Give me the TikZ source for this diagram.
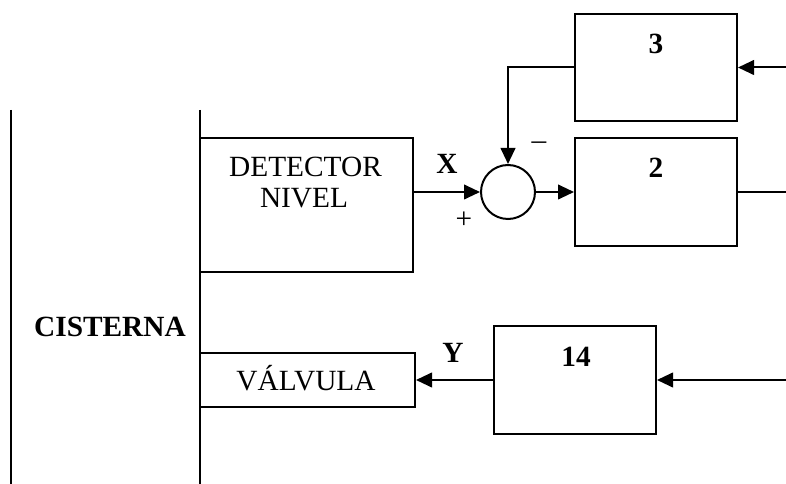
\documentclass[tikz,border=0pt]{standalone}
\usepackage{fontspec}
\setmainfont{Liberation Serif}
\usetikzlibrary{arrows.meta}
\tikzset{
  blk/.style={draw, line width=1.5pt, rectangle, inner sep=0pt},
  sumc/.style={draw, line width=1.5pt, circle, inner sep=0pt, minimum size=40.5pt},
  ln/.style={line width=1.5pt},
  arr/.style={line width=1.5pt, -{Triangle[length=12pt,width=11pt]}},
  txt/.style={font=\fontsize{22}{26}\selectfont, anchor=base, inner sep=0pt},
  btxt/.style={font=\fontsize{22}{26}\selectfont\bfseries, anchor=base, inner sep=0pt},
  sgn/.style={font=\fontsize{22}{26}\selectfont, inner sep=0pt}
}
\begin{document}
\begin{tikzpicture}[x=0.75pt,y=-0.75pt]
\useasboundingbox (0,0) rectangle (786,484);
% vertical lines
\coordinate (l1t) at (11,110);
\coordinate (l1b) at (11,484);
\coordinate (l2t) at (200,110);
\coordinate (l2b) at (200,484);
\draw[ln] (l1t) -- (l1b);
\draw[ln] (l2t) -- (l2b);
% boxes
\node[blk, minimum width=159.75pt, minimum height=100.5pt] (det) at (306.5,205) {};
\node[blk, minimum width=121.5pt, minimum height=80.25pt] (b3) at (656,67.5) {};
\node[blk, minimum width=121.5pt, minimum height=81pt] (b2) at (656,192) {};
\node[blk, minimum width=121.5pt, minimum height=81pt] (b14) at (575,380) {};
\node[blk, minimum width=161.25pt, minimum height=40.5pt] (val) at (307.5,380) {};
\node[sumc] (sum) at (508,192) {};
% texts
\node[txt] (t1) at (305.5,177) {DETECTOR};
\node[txt] (t2) at (304,208) {NIVEL};
\node[txt] (t3) at (306,391) {VÁLVULA};
\node[btxt] (t4) at (110,337) {CISTERNA};
\node[btxt] (n3) at (656,54) {3};
\node[btxt] (n2) at (656,178) {2};
\node[btxt] (n14) at (576,367) {14};
\node[btxt] (lx) at (447,174) {X};
\node[btxt] (ly) at (453,363) {Y};
\node[sgn] (plus) at (464,220) {+};
\node[sgn] (minus) at (539,146) {\textendash};
% connectors
\coordinate (o2) at (786,192);
\coordinate (i3) at (786,67.5);
\coordinate (i14) at (786,380);
\draw[arr] (det.east |- sum.west) -- (sum.west);
\draw[arr] (sum.east) -- (b2.west |- sum.east);
\draw[ln] (b2.east) -- (o2);
\draw[arr] (i3) -- (b3.east);
\draw[arr] (b3.west) -| (sum.north);
\draw[arr] (i14) -- (b14.east);
\draw[arr] (b14.west) -- (val.east);
\end{tikzpicture}
\end{document}
